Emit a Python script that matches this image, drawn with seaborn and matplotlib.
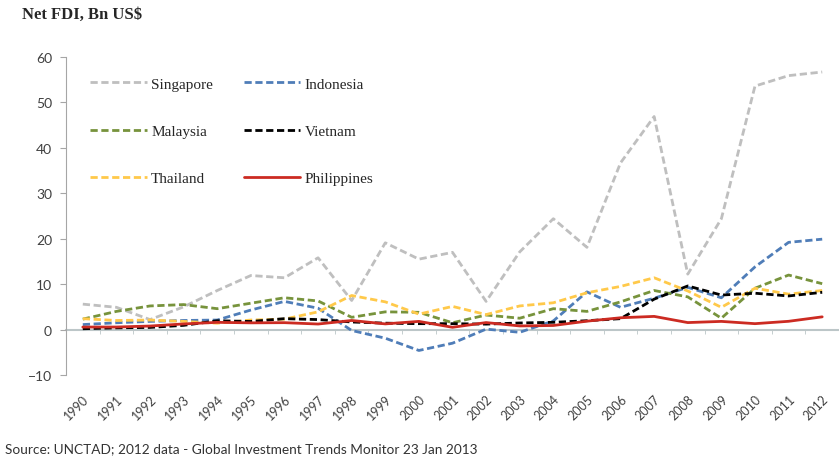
import numpy as np
import pandas as pd
import matplotlib
matplotlib.use("Agg")
import matplotlib.pyplot as plt
import seaborn as sns

years = list(range(1990, 2013))

singapore = [5.6, 4.9, 2.2, 5.0, 8.6, 11.9, 11.4, 15.8, 6.4, 19.1, 15.5, 17.0,
             6.2, 17.1, 24.4, 18.1, 36.7, 46.9, 12.2, 24.4, 53.6, 55.9, 56.7]
indonesia = [1.1, 1.5, 1.8, 2.0, 2.1, 4.3, 6.2, 4.7, -0.2, -1.9, -4.6, -3.0,
             0.1, -0.6, 1.9, 8.3, 4.9, 6.9, 9.3, 7.0, 13.8, 19.2, 19.9]
malaysia = [2.3, 4.0, 5.2, 5.5, 4.6, 5.8, 7.0, 6.3, 2.7, 3.9, 3.8, 1.5,
            3.2, 2.5, 4.6, 4.0, 6.1, 8.6, 7.2, 2.5, 9.1, 12.0, 10.1]
vietnam = [0.18, 0.38, 0.47, 0.93, 1.94, 1.78, 2.4, 2.2, 1.67, 1.41, 1.3, 1.3,
           1.2, 1.45, 1.6, 1.95, 2.4, 6.7, 9.6, 7.6, 8.0, 7.4, 8.2]
thailand = [2.4, 2.0, 2.1, 1.8, 1.4, 2.1, 2.3, 3.9, 7.5, 6.1, 3.4, 5.1,
            3.3, 5.2, 5.9, 8.1, 9.5, 11.4, 8.5, 4.9, 9.1, 7.8, 8.6]
philippines = [0.55, 0.56, 0.78, 1.24, 1.59, 1.48, 1.52, 1.22, 2.0, 1.25, 1.8, 0.5,
               1.54, 0.8, 0.9, 1.85, 2.6, 2.9, 1.54, 1.8, 1.3, 1.82, 2.8]

series = {
    "Singapore": singapore,
    "Indonesia": indonesia,
    "Malaysia": malaysia,
    "Vietnam": vietnam,
    "Thailand": thailand,
    "Philippines": philippines,
}
colors = {
    "Singapore": "#BFBFBF",
    "Indonesia": "#4F7DB8",
    "Malaysia": "#77933C",
    "Vietnam": "#000000",
    "Thailand": "#FFC94A",
    "Philippines": "#CC2B22",
}

df = pd.DataFrame(
    [(c, y, v) for c, vals in series.items() for y, v in zip(years, vals)],
    columns=["country", "year", "value"],
)

sns.set_style("white")
plt.rcParams["font.family"] = ["Lato", "DejaVu Sans"]

fig = plt.figure(figsize=(8.39, 4.60), dpi=100)
ax = fig.add_axes([66 / 839, 1 - 376 / 460, 773 / 839, 318 / 460])

handles = {}
draw_order = ["Singapore", "Indonesia", "Malaysia", "Thailand", "Vietnam", "Philippines"]
for c in draw_order:
    sub = df[df["country"] == c]
    sns.lineplot(data=sub, x="year", y="value", ax=ax, color=colors[c],
                 linewidth=2.0, label=c)
    line = ax.get_lines()[-1]
    if c != "Philippines":
        line.set_dashes((2.6, 1.3))
    handles[c] = line

# spine at zero first: moving it resets the tick settings
for s in ["top", "right"]:
    ax.spines[s].set_visible(False)
ax.spines["left"].set_color("#A6A6A6")
ax.spines["bottom"].set_position(("data", 0))
ax.spines["bottom"].set_color("#BCC6C8")
ax.spines["bottom"].set_linewidth(1.5)
ax.spines["bottom"].set_zorder(0.5)

ax.set_xlim(1989.5, 2012.5)
ax.set_ylim(-10, 60)
ax.set_yticks(range(-10, 61, 10))
ax.set_xticks(years)
ax.set_xticks(np.arange(1990.5, 2012, 1), minor=True)
ax.set_xticklabels([str(y) for y in years], rotation=45, ha="right",
                   va="top", rotation_mode="anchor", fontsize=9, color="#404040")
ax.set_xlabel("")
ax.set_ylabel("")

ax.tick_params(axis="y", direction="out", length=4, color="#A6A6A6",
               labelsize=10, labelcolor="#404040", pad=6, left=True)
ax.tick_params(axis="x", which="major", length=0, pad=45)
ax.tick_params(axis="x", which="minor", direction="out", length=3,
               color="#BCC6C8", bottom=True)

order = ["Singapore", "Malaysia", "Thailand", "Indonesia", "Vietnam", "Philippines"]
ax.legend([handles[c] for c in order], order, ncol=2, frameon=False,
          loc="upper left", bbox_to_anchor=(90 / 839, 1 - 78 / 460),
          bbox_transform=fig.transFigure, borderpad=0, borderaxespad=0,
          handlelength=3.7, handletextpad=0.3, columnspacing=2.0,
          labelspacing=2.2, prop={"family": "Liberation Serif", "size": 11})

fig.text(22 / 839, 1 - 15 / 460, "Net FDI, Bn US$", ha="left", va="center",
         fontsize=12, fontweight="bold", family="Liberation Serif", color="#262626")
fig.text(5 / 839, 1 - 449 / 460,
         "Source: UNCTAD; 2012 data - Global Investment Trends Monitor 23 Jan 2013",
         ha="left", va="center", fontsize=9.8, color="#333333")

fig.savefig("out.png", dpi=100)
